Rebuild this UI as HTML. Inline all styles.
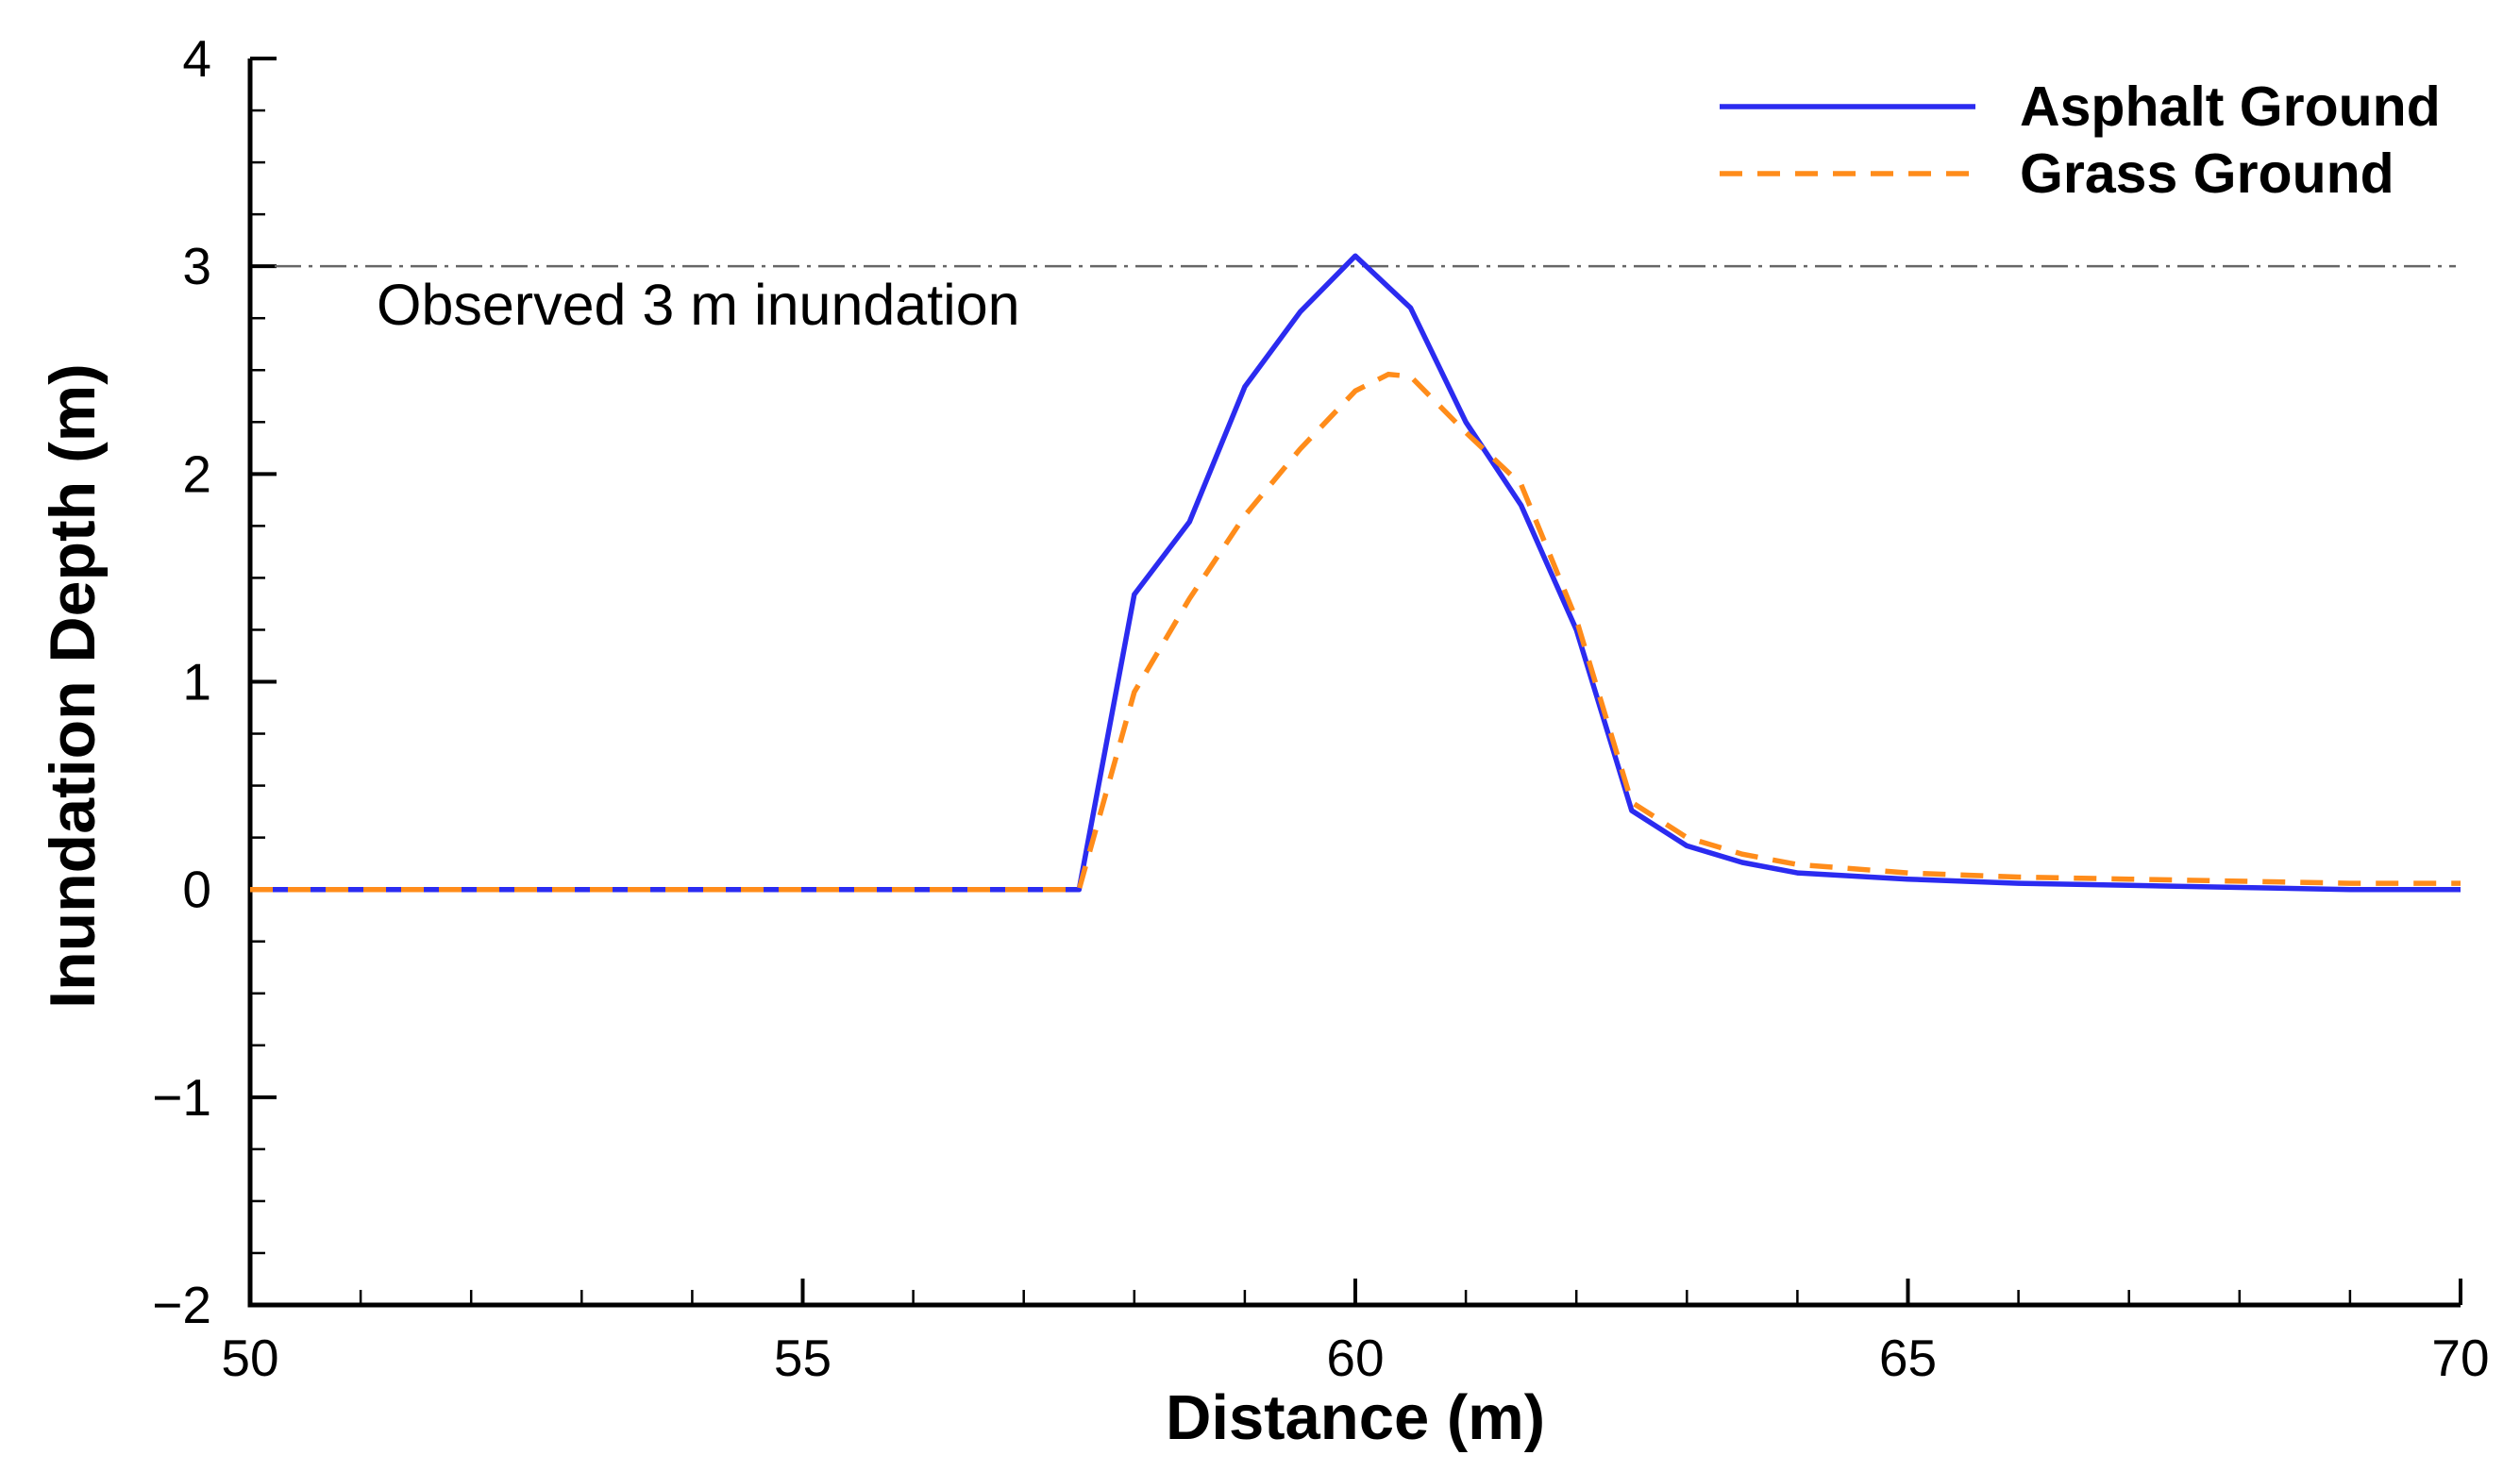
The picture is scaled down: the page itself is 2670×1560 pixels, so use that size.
<!DOCTYPE html>
<html><head><meta charset="utf-8"><style>
html,body{margin:0;padding:0;background:#fff;}
svg{display:block;font-family:"Liberation Sans",Arial,sans-serif;}
</style></head><body>
<svg id="chart" width="2670" height="1560" viewBox="0 0 2670 1560">
<g id="axes"></g>
<g id="marks"></g>
<text x="1436" y="1525" text-anchor="middle" font-size="67" font-weight="bold">Distance (m)</text>
<text transform="translate(100,727) rotate(-90)" text-anchor="middle" font-size="68" font-weight="bold">Inundation Depth (m)</text>
<g>
<line x1="1822" y1="113" x2="2093" y2="113" stroke="#2b2bf0" stroke-width="5.5"/>
<text x="2140" y="133" font-size="59" font-weight="bold">Asphalt Ground</text>
<line x1="1822" y1="184" x2="2093" y2="184" stroke="#ff8c1a" stroke-width="5.5" stroke-dasharray="24,16"/>
<text x="2140" y="204" font-size="59" font-weight="bold">Grass Ground</text>
</g>
</svg>
<script>
const xTicks=[50,55,60,65,70];
const yTicks=[-2,-1,0,1,2,3,4];
const yTickLabels=["\u22122","\u22121","0","1","2","3","4"];
const asphaltX=[50,57.5,58,58.5,59,59.5,60,60.5,61,61.5,62,62.5,63,63.5,64,65,66,67,68,69,70];
const asphaltY=[0,0,1.42,1.77,2.42,2.78,3.05,2.8,2.25,1.85,1.25,0.38,0.21,0.13,0.08,0.05,0.03,0.02,0.01,0,0];
const grassX=[50,57.5,58,58.5,59,59.5,60,60.3,60.5,61,61.5,62,62.5,63,63.5,64,65,66,67,68,69,70];
const grassY=[0,0,0.95,1.4,1.8,2.12,2.4,2.48,2.47,2.2,1.95,1.3,0.42,0.25,0.17,0.12,0.08,0.06,0.05,0.04,0.03,0.03];
const observedLevel=[3];
const NS="http://www.w3.org/2000/svg";
const X0=265,X1=2607,Y0=1383,Y1=62;
function sx(v){return X0+(v-50)/20*(X1-X0);}
function sy(v){return Y0-(v+2)/6*(Y0-Y1);}
const axes=document.getElementById('axes'),marks=document.getElementById('marks');
function mk(tag,attrs,parent){const e=document.createElementNS(NS,tag);for(const k in attrs)e.setAttribute(k,attrs[k]);parent.appendChild(e);return e;}
let a=mk('path',{d:`M${X0},${Y1} L${X0},${Y0} L${X1},${Y0}`,fill:'none',stroke:'#000','stroke-width':5},axes);


for(let v=50;v<=70;v++){const major=v%5===0;
 const t=mk('line',{x1:sx(v),x2:sx(v),y1:Y0,y2:Y0-(major?28:16),stroke:'#000','stroke-width':major?4:2.5},axes);
 
 }
xTicks.forEach(v=>{const t=mk('text',{x:sx(v),y:1458,'text-anchor':'middle','font-size':55},axes);t.textContent=v;
 
 });
for(let v=-2;v<=4.001;v+=0.25){const major=Math.abs(v-Math.round(v))<1e-6;
 const t=mk('line',{x1:X0,x2:X0+(major?28:16),y1:sy(v),y2:sy(v),stroke:'#000','stroke-width':major?4:2.5},axes);
 
 }
yTicks.forEach((v,i)=>{const t=mk('text',{x:224,y:sy(v)+19,'text-anchor':'end','font-size':55},axes);t.textContent=yTickLabels[i];
 
 });
const ob=mk('line',{x1:291,x2:2602,y1:sy(observedLevel[0]),y2:sy(observedLevel[0]),stroke:'#666','stroke-width':2.5,'stroke-dasharray':'28,8,4,8'},marks);


const ot=mk('text',{x:399,y:sy(observedLevel[0])+62,'font-size':61},marks);ot.textContent='Observed 3 m inundation';


function pts(xs,ys){return xs.map((x,i)=>sx(x).toFixed(1)+','+sy(ys[i]).toFixed(1)).join(' ');}
const pa=mk('polyline',{points:pts(asphaltX,asphaltY),fill:'none',stroke:'#2b2bf0','stroke-width':5.5,'stroke-linejoin':'round'},marks);


const pg=mk('polyline',{points:pts(grassX,grassY),fill:'none',stroke:'#ff8c1a','stroke-width':5.5,'stroke-dasharray':'24,16'},marks);


</script>
</body></html>
